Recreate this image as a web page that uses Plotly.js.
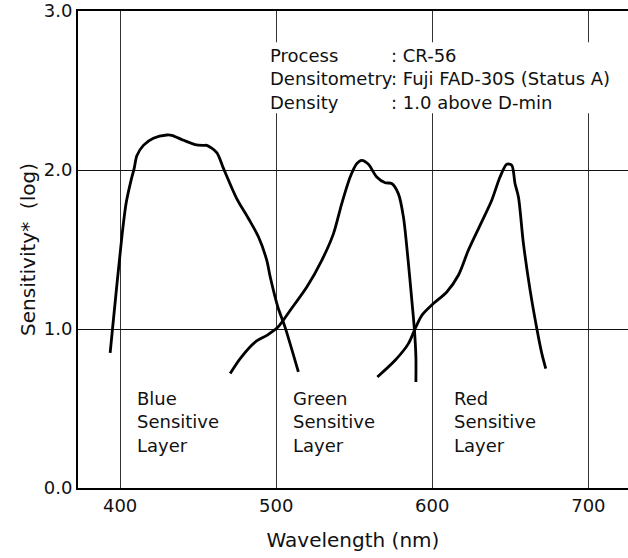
<!DOCTYPE html>
<html>
<head>
<meta charset="utf-8">
<script src="https://cdn.plot.ly/plotly-3.0.1.min.js"></script>
<style>html,body{margin:0;padding:0;background:#fff;}#chart{width:628px;height:558px;}</style>
</head>
<body>
<div id="chart"></div>
<script>
// Blue sensitive layer
const blueX = [393.6, 395.1, 401.1, 403.8, 407, 409, 410.7, 414.9, 421.3, 429.9, 433.1, 440.6, 448, 453.4, 455.5, 461.9, 466.2, 474.7, 482.2, 488.6, 494, 496.1, 501, 505.7, 514.2];
const blueY = [0.85, 1.0, 1.58, 1.79, 1.935, 2.01, 2.09, 2.155, 2.20, 2.22, 2.218, 2.187, 2.16, 2.155, 2.155, 2.11, 2.01, 1.82, 1.695, 1.58, 1.43, 1.33, 1.14, 1.01, 0.73];
// Green sensitive layer
const greenX = [470.5, 476.9, 486.5, 494, 500.8, 509, 519.6, 529.2, 536.7, 542, 547.4, 551.6, 554.8, 559.1, 564.4, 569.8, 574, 578.3, 581.5, 584.3, 586.9, 588.6, 589.5, 589.5];
const greenY = [0.72, 0.814, 0.918, 0.96, 1.009, 1.118, 1.264, 1.432, 1.60, 1.789, 1.956, 2.04, 2.061, 2.036, 1.956, 1.92, 1.915, 1.85, 1.705, 1.453, 1.18, 0.99, 0.824, 0.667];
// Red sensitive layer
const redX = [564.8, 576.2, 584.7, 589, 593.3, 600.7, 609.3, 616.7, 623.1, 630.6, 638.1, 643.4, 647.7, 650.9, 653, 655.2, 658.4, 662.7, 667, 670.2, 672.7];
const redY = [0.698, 0.803, 0.908, 1.002, 1.086, 1.16, 1.233, 1.338, 1.495, 1.652, 1.81, 1.956, 2.036, 2.03, 1.915, 1.83, 1.537, 1.243, 1.002, 0.845, 0.751];

const xTickVals = [400, 500, 600, 700];
const xTickText = ['400', '500', '600', '700'];
const yTickVals = [0, 1, 2, 3];
const yTickText = ['0.0', '1.0', '2.0', '3.0'];

const layerLabels = ['Blue<br>Sensitive<br>Layer', 'Green<br>Sensitive<br>Layer', 'Red<br>Sensitive<br>Layer'];
const layerLabelX = [409.6, 509.5, 612.5];
const infoKeys = ['Process', 'Densitometry', 'Density'];
const infoValues = [': CR-56', ': Fuji FAD-30S (Status A)', ': 1.0 above D-min'];

const FONT = 'DejaVu Sans, sans-serif';
const TXT = '#111';

const lineStyle = {color: '#000', width: 2.8, shape: 'spline', smoothing: 0.8};
const traces = [
  {x: blueX, y: blueY, mode: 'lines', line: lineStyle, hoverinfo: 'skip'},
  {x: greenX, y: greenY, mode: 'lines', line: lineStyle, hoverinfo: 'skip'},
  {x: redX, y: redY, mode: 'lines', line: lineStyle, hoverinfo: 'skip'}
];

const annotations = layerLabels.map((t, i) => ({
  x: layerLabelX[i], y: 0.415, xref: 'x', yref: 'y', text: t, showarrow: false,
  xanchor: 'left', yanchor: 'middle', align: 'left',
  font: {family: FONT, size: 18, color: TXT}
}));
annotations.push({
  x: 495.6, y: 2.57, xref: 'x', yref: 'y', text: infoKeys.join('<br>'), showarrow: false,
  xanchor: 'left', yanchor: 'middle', align: 'left', borderpad: 0,
  font: {family: FONT, size: 18, color: TXT}
});
annotations.push({
  x: 573.2, y: 2.57, xref: 'x', yref: 'y', text: infoValues.join('<br>'), showarrow: false,
  xanchor: 'left', yanchor: 'middle', align: 'left', borderpad: 0,
  font: {family: FONT, size: 18, color: TXT}
});

// white panel behind the process information (covers the grid, under the curves)
const shapes = [{
  type: 'rect', xref: 'x', yref: 'y', x0: 494.8, x1: 717.7, y0: 2.357, y1: 2.803,
  fillcolor: '#fff', line: {width: 0}, layer: 'between'
}];

const layout = {
  width: 628, height: 558,
  margin: {l: 78, r: 0, t: 11, b: 70, pad: 0},
  paper_bgcolor: '#fff', plot_bgcolor: '#fff',
  showlegend: false,
  font: {family: FONT, size: 18, color: TXT},
  xaxis: {
    range: [373, 725.4], tickmode: 'array', tickvals: xTickVals, ticktext: xTickText,
    showgrid: true, gridcolor: '#333', gridwidth: 1, zeroline: false,
    showline: true, linecolor: '#000', linewidth: 2, mirror: true, ticks: '',
    tickfont: {family: FONT, size: 18, color: TXT},
    title: {text: 'Wavelength (nm)', font: {family: FONT, size: 20, color: TXT}, standoff: 18}
  },
  yaxis: {
    range: [0, 3], tickmode: 'array', tickvals: yTickVals, ticktext: yTickText,
    showgrid: true, gridcolor: '#111', gridwidth: 1, zeroline: false,
    showline: true, linecolor: '#000', linewidth: 2, mirror: true, ticks: '',
    tickfont: {family: FONT, size: 18, color: TXT},
    title: {text: 'Sensitivity*  (log)', font: {family: FONT, size: 20, color: TXT}, standoff: 3}
  },
  shapes: shapes,
  annotations: annotations
};

Plotly.newPlot('chart', traces, layout, {staticPlot: true, displayModeBar: false});
</script>
</body>
</html>
